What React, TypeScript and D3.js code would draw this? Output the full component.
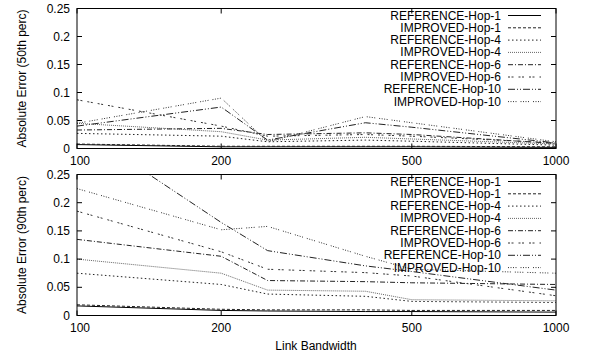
import * as d3 from "d3";

// link bandwidth values (x)
const bandwidths = [100, 200, 250, 400, 500, 1000];
const xTicks = [100, 200, 500, 1000];
const yTicks = [0, 0.05, 0.1, 0.15, 0.2, 0.25];

const seriesNames = [
  "REFERENCE-Hop-1",
  "IMPROVED-Hop-1",
  "REFERENCE-Hop-4",
  "IMPROVED-Hop-4",
  "REFERENCE-Hop-6",
  "IMPROVED-Hop-6",
  "REFERENCE-Hop-10",
  "IMPROVED-Hop-10",
];

// 50th percentile error
const p50 = [
  [0.007, 0.003, 0.003, 0.003, 0.003, 0.002],
  [0.008, 0.004, 0.004, 0.004, 0.004, 0.003],
  [0.027, 0.022, 0.012, 0.015, 0.013, 0.006],
  [0.045, 0.030, 0.015, 0.020, 0.017, 0.008],
  [0.033, 0.036, 0.025, 0.028, 0.025, 0.009],
  [0.087, 0.040, 0.022, 0.025, 0.022, 0.010],
  [0.040, 0.074, 0.015, 0.046, 0.038, 0.010],
  [0.045, 0.090, 0.012, 0.057, 0.046, 0.012],
];

// 90th percentile error
const p90 = [
  [0.017, 0.009, 0.008, 0.007, 0.007, 0.006],
  [0.019, 0.011, 0.010, 0.010, 0.009, 0.009],
  [0.075, 0.055, 0.038, 0.034, 0.025, 0.023],
  [0.100, 0.075, 0.045, 0.043, 0.028, 0.026],
  [0.135, 0.105, 0.062, 0.060, 0.058, 0.055],
  [0.185, 0.113, 0.082, 0.076, 0.070, 0.035],
  [0.335, 0.165, 0.115, 0.088, 0.078, 0.045],
  [0.225, 0.152, 0.158, 0.105, 0.082, 0.075],
];

// gnuplot-ish line types
const dashes = ["", "3,2", "1.5,2.5", "1,1", "5,2,1,2", "2,1.5,2,5", "7,2,1,2,1,2", "1,1.5,1,1.5,1,1.5,1,4"];
const strokes = ["#000", "#222", "#222", "#666", "#222", "#333", "#222", "#333"];

const W = 592;
const H = 356;
const font = "'Liberation Sans', Arial, sans-serif";

function Panel({top, bottom, data, label, id}: {top: number; bottom: number; data: number[][]; label: string; id: string}) {
  const left = 77;
  const right = 556;
  const x = d3.scaleLog().domain([100, 1000]).range([left, right]);
  const y = d3.scaleLinear().domain([0, 0.25]).range([bottom, top]);
  const line = d3.line<number>()
    .x((_, i) => x(bandwidths[i]))
    .y(d => y(d));

  return <g>
    <defs>
      <clipPath id={id}>
        <rect x={left} y={top} width={right - left} height={bottom - top}/>
      </clipPath>
    </defs>
    <g clipPath={`url(#${id})`}>
      {data.map((s, i) => (
        <path key={i} d={line(s) ?? ""} fill="none" stroke={strokes[i]}
              strokeWidth={1} strokeDasharray={dashes[i] || undefined}/>
      ))}
    </g>
    {/* legend */}
    {seriesNames.map((n, i) => {
      const ly = top + 7 + i * 12.3;
      return <g key={n}>
        <text x={501} y={ly + 4} textAnchor="end" fontSize={12} fontFamily={font} fill="#000">{n}</text>
        <line x1={508} x2={541} y1={ly} y2={ly} stroke={strokes[i]} strokeWidth={1}
              strokeDasharray={dashes[i] || undefined}/>
      </g>;
    })}
    {/* ticks, mirrored inside */}
    {yTicks.map(t => (
      <g key={t}>
        <line x1={left} x2={left + 5} y1={y(t)} y2={y(t)} stroke="#000"/>
        <line x1={right - 5} x2={right} y1={y(t)} y2={y(t)} stroke="#000"/>
        <text x={70} y={y(t) + 4} textAnchor="end" fontSize={12} fontFamily={font}>{t}</text>
      </g>
    ))}
    {xTicks.map(t => (
      <g key={t}>
        <line x1={x(t)} x2={x(t)} y1={bottom} y2={bottom - 5} stroke="#000"/>
        <line x1={x(t)} x2={x(t)} y1={top} y2={top + 5} stroke="#000"/>
        <text x={x(t) + (t === 100 ? 3 : 0)} y={bottom + 16} textAnchor="middle" fontSize={12} fontFamily={font}>{t}</text>
      </g>
    ))}
    <rect x={left} y={top} width={right - left} height={bottom - top} fill="none" stroke="#000" strokeWidth={1}/>
    <text transform={`translate(26,${(top + bottom) / 2}) rotate(-90)`} textAnchor="middle"
          fontSize={12} fontFamily={font}>{label}</text>
  </g>;
}

export default function App() {
  return <svg width={W} height={H} style={{position: "absolute", left: 0, top: 0, background: "#fff"}}>
    <rect width={W} height={H} fill="#fff"/>
    <Panel top={8.5} bottom={148.5} data={p50} label="Absolute Error (50th perc)" id="c1"/>
    <Panel top={174.5} bottom={315.5} data={p90} label="Absolute Error (90th perc)" id="c2"/>
    <text x={316} y={350} textAnchor="middle" fontSize={12} fontFamily={font}>Link Bandwidth</text>
  </svg>;
}
